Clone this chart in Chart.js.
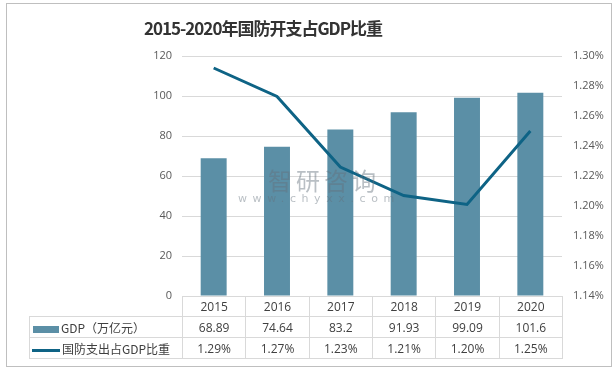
<!DOCTYPE html>
<html lang="zh-CN">
<head>
    <meta charset="UTF-8">
    <title>2015-2020年国防开支占GDP比重</title>
    <style>
        body {
            margin: 0;
            padding: 0;
            background: #fff;
            font-family: "Noto Sans CJK SC", "Noto Sans", sans-serif;
        }

        .wrap {
            position: relative;
            width: 615px;
            height: 372px;
        }

        .frame {
            position: absolute;
            left: 6px;
            top: 3px;
            width: 604px;
            height: 362px;
            border: 1px solid #bfbfbf;
        }

        .chart-box {
            position: absolute;
            left: 0;
            top: 0;
            width: 615px;
            height: 372px;
        }

        h1 {
            position: absolute;
            left: 0;
            top: 15px;
            width: 526px;
            margin: 0;
            text-align: center;
            font-size: 17px;
            font-weight: bold;
            color: #333;
            letter-spacing: -1px;
        }

        .mark {
            position: absolute;
            left: 238px;
            top: 162px;
            color: rgba(100, 112, 125, 0.45);
            pointer-events: none;
        }
        .mark .big { font-size: 24px; letter-spacing: 4px; margin-left: 30px; }
        .mark .small { font-size: 11px; letter-spacing: 5.6px; margin-top: -5px; font-family: "DejaVu Sans", sans-serif; }

        table {
            position: absolute;
            left: 29px;
            top: 296px;
            border-collapse: collapse;
            table-layout: fixed;
            width: 534px;
            font-size: 12px;
            color: #404040;
        }

        td {
            border: 1px solid #d9d9d9;
            text-align: center;
            padding: 0;
            height: 20px;
            font-family: "Open Sans", "Noto Sans CJK SC", sans-serif;
        }

        tr.years td { height: 19px; }
        tr.years td.blank { border: none; }

        td.lab {
            text-align: left;
            white-space: nowrap;
            font-family: "Noto Sans CJK SC", sans-serif;
        }

        .sw-bar {
            display: inline-block;
            width: 26px;
            height: 7px;
            background: #5b8fa6;
            margin: 0 2px 0 3px;
            vertical-align: middle;
        }

        .sw-line {
            display: inline-block;
            width: 28px;
            height: 3px;
            background: #0e6385;
            margin: 0 2px 0 2px;
            vertical-align: middle;
        }
    </style>
</head>
<body>
    <div class="wrap">
        <div class="frame"></div>
        <div class="chart-box"><canvas id="chart"></canvas></div>
        <h1>2015-2020年国防开支占GDP比重</h1>
        <div class="mark">
            <div class="big">智研咨询</div>
            <div class="small">www.chyxx.com</div>
        </div>
        <table id="data-table"></table>
    </div>

    <script src="https://cdn.jsdelivr.net/npm/chart.js"></script>
    <script>
        const years = ['2015', '2016', '2017', '2018', '2019', '2020'];
        const gdp = [68.89, 74.64, 83.2, 91.93, 99.09, 101.6];
        const ratio = [1.292, 1.273, 1.226, 1.207, 1.201, 1.25];
        const gdpLabel = 'GDP（万亿元）';
        const ratioLabel = '国防支出占GDP比重';

        // table under the plot (years / values)
        const table = document.getElementById('data-table');
        let html = '<colgroup><col style="width:153px">' + years.map(() => '<col>').join('') + '</colgroup>';
        html += '<tr class="years"><td class="blank"></td>' + years.map(y => `<td>${y}</td>`).join('') + '</tr>';
        html += `<tr><td class="lab"><span class="sw-bar"></span>${gdpLabel}</td>` + gdp.map(v => `<td>${v}</td>`).join('') + '</tr>';
        html += `<tr><td class="lab"><span class="sw-line"></span>${ratioLabel}</td>` + ratio.map(v => `<td>${v.toFixed(2)}%</td>`).join('') + '</tr>';
        table.innerHTML = html;

        const tickFont = { family: '"Open Sans", sans-serif', size: 11 };

        new Chart(document.getElementById('chart'), {
            type: 'bar',
            data: {
                labels: years,
                datasets: [
                    {
                        type: 'line',
                        label: ratioLabel,
                        data: ratio,
                        yAxisID: 'y1',
                        borderColor: '#0e6385',
                        borderWidth: 3,
                        pointRadius: 0,
                        tension: 0,
                        order: 0
                    },
                    {
                        label: gdpLabel,
                        data: gdp,
                        yAxisID: 'y',
                        backgroundColor: '#5b8fa6',
                        categoryPercentage: 1,
                        barPercentage: 0.41,
                        order: 1
                    }
                ]
            },
            options: {
                responsive: true,
                maintainAspectRatio: false,
                animation: false,
                layout: { padding: { top: 56, bottom: 76, left: 0, right: 0 } },
                plugins: {
                    legend: { display: false },
                    tooltip: { enabled: false }
                },
                scales: {
                    x: { display: false },
                    y: {
                        position: 'left',
                        min: 0,
                        max: 120,
                        ticks: { stepSize: 20, color: '#595959', font: tickFont, padding: 10 },
                        grid: { color: '#d9d9d9', drawTicks: false },
                        border: { display: false },
                        afterFit: s => { s.width = 182; }
                    },
                    y1: {
                        position: 'right',
                        min: 1.14,
                        max: 1.30,
                        ticks: {
                            stepSize: 0.02,
                            color: '#595959',
                            font: tickFont,
                            padding: 11,
                            callback: v => v.toFixed(2) + '%'
                        },
                        grid: { display: false, drawTicks: false },
                        border: { display: false },
                        afterFit: s => { s.width = 53; }
                    }
                }
            }
        });
    </script>
</body>
</html>
